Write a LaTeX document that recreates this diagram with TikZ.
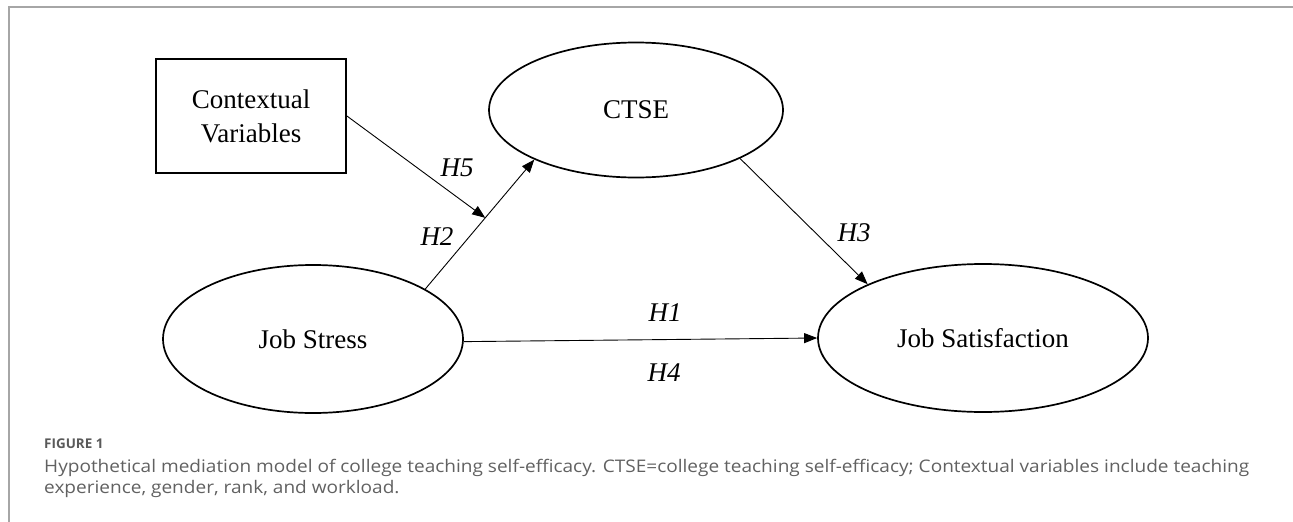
\documentclass[tikz,border=0pt]{standalone}
\usepackage{graphicx}
\usepackage{fontspec}
\setmainfont{Liberation Serif}
\newfontfamily\capfont{Open Sans}
\usetikzlibrary{shapes.geometric,arrows.meta}
\begin{document}
\begin{tikzpicture}[x=1pt,y=-1pt,
  latent/.style={draw,ellipse,line width=1.7pt,inner sep=0pt,font=\fontsize{27}{32}\selectfont},
  boxnode/.style={draw,rectangle,line width=1.8pt,inner sep=0pt,align=center,font=\fontsize{27}{34}\selectfont},
  pathline/.style={line width=0.9pt,-{Triangle[length=13pt,width=10pt]}},
  lbl/.style={inner sep=0pt,font=\fontsize{27}{32}\selectfont\itshape},
  captxt/.style={anchor=base west,inner sep=0pt,text=black!62},
  caphead/.style={anchor=base west,inner sep=0pt,text=black!65},
  frame/.style={draw=black!35,line width=1.4pt}]
\useasboundingbox (0,0) rectangle (1293,522);
\draw[frame] (9,522) -- (9,7) -- (1293,7);

\node[latent,minimum width=294pt,minimum height=135pt] (ctse) at (636,110) {CTSE};
\node[latent,minimum width=300pt,minimum height=148pt] (js) at (313,339) {Job Stress};
\node[latent,minimum width=330pt,minimum height=148pt] (jsat) at (983,338) {Job Satisfaction};
\node[boxnode,minimum width=190pt,minimum height=114pt] (cv) at (251,116) {Contextual\\Variables};

\draw[pathline] (js.-1.5) -- (jsat.west);
\draw[pathline] (js.24) -- (ctse.206) coordinate[pos=0.55] (m);
\draw[pathline] (cv.east) -- (m);
\draw[pathline] (ctse.335) -- (jsat.155);

\node[lbl] (h5) at (457,168) {H5};
\node[lbl] (h2) at (437,237) {H2};
\node[lbl] (h3) at (854,233) {H3};
\node[lbl] (h1) at (665,313) {H1};
\node[lbl] (h4) at (664,373) {H4};

\node[caphead] (fig) at (44,448) {\scalebox{1.12}{\capfont\bfseries\fontsize{12}{15}\selectfont FIGURE 1}};
\node[captxt] (cap1) at (44,472.5) {\scalebox{1.12}[1.02]{\capfont\fontsize{17}{20}\selectfont Hypothetical mediation model of college teaching self-efficacy. CTSE=college teaching self-efficacy; Contextual variables include teaching}};
\node[captxt] (cap2) at (44,493) {\scalebox{1.12}[1.02]{\capfont\fontsize{17}{20}\selectfont experience, gender, rank, and workload.}};
\end{tikzpicture}
\end{document}
